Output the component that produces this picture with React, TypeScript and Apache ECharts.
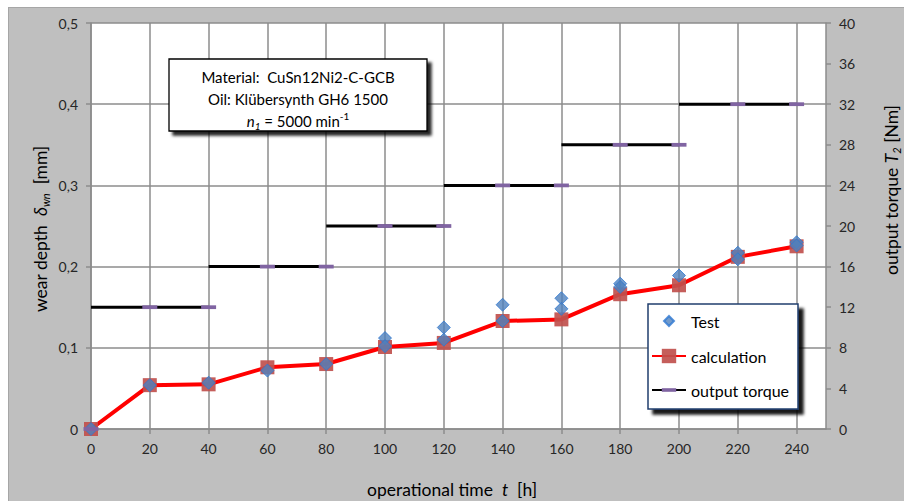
import React, { useEffect, useRef } from "react";
import * as echarts from "echarts";

// ---- data ----
const timeH = [0, 20, 40, 60, 80, 100, 120, 140, 160, 180, 200, 220, 240];
const calcWear = [0, 0.054, 0.055, 0.076, 0.08, 0.101, 0.106, 0.133, 0.135, 0.166, 0.177, 0.212, 0.225];

const testTime = [0, 20, 40, 60, 80, 100, 100, 120, 120, 140, 140, 160, 160, 180, 180, 200, 220, 220, 240, 240];
const testWear = [0, 0.054, 0.057, 0.072, 0.08, 0.112, 0.102, 0.125, 0.11, 0.153, 0.133, 0.161, 0.148, 0.179, 0.175, 0.189, 0.217, 0.209, 0.23, 0.226];

const torqueFrom = [0, 40, 80, 120, 160, 200];
const torqueMarks = [[20, 40], [60, 80], [100, 120], [140, 160], [180, 200], [220, 240]];
const torqueNm = [12, 16, 20, 24, 28, 32];
const torqueStart = [0, 0]; // t = 0 h, T = 0 Nm

const xTickValues = [0, 20, 40, 60, 80, 100, 120, 140, 160, 180, 200, 220, 240];

const FONT = "Lato, 'Open Sans', sans-serif";

// symbol shapes (padded bounding boxes keep the glyph small inside its square)
const DASH = "path://M0 0M0 7.5L20 7.5L20 12.5L0 12.5ZM20 20";
const DIAMOND_ICON = "path://M0 0M9 4L14 9L9 14L4 9ZM18 18";

export default function App() {
  const ref = useRef<HTMLDivElement>(null);

  useEffect(() => {
    if (!ref.current) return;
    const chart = echarts.init(ref.current, undefined, { renderer: "svg" });

    const torqueData: any[] = [{ value: torqueStart }, [torqueStart[0], "-"]];
    torqueFrom.forEach((from, i) => {
      const T = torqueNm[i];
      torqueData.push({ value: [from, T], symbol: "none" });
      torqueMarks[i].forEach((m) => torqueData.push([m, T]));
      torqueData.push([torqueMarks[i][1], "-"]);
    });

    const labelStyle = { color: "#262626", fontSize: 14, fontFamily: FONT };
    const gridLine = { show: true, lineStyle: { color: "#8c8c8c", width: 1.5 } };
    const axisLine = { show: true, lineStyle: { color: "#8c8c8c", width: 1.5 } };
    const axisTick = { show: true, inside: false, length: 5, lineStyle: { color: "#8c8c8c", width: 1.5 } };

    const titleRich = {
      n: { fontSize: 17.5, fontFamily: FONT, color: "#000", lineHeight: 22 },
      i: { fontSize: 17.5, fontFamily: FONT, fontStyle: "italic", color: "#000", lineHeight: 22 },
      sub: { fontSize: 11, fontFamily: FONT, fontStyle: "italic", color: "#000", lineHeight: 11, verticalAlign: "bottom" },
    };

    chart.setOption({
      animation: false,
      backgroundColor: "#bfbfbf",
      grid: { left: 82, top: 15, width: 735, height: 406, show: true, backgroundColor: "#ffffff", borderWidth: 0 },
      xAxis: {
        type: "value",
        min: 0,
        max: 250,
        interval: 20,
        axisLine,
        axisTick: { ...axisTick, customValues: xTickValues },
        axisLabel: { ...labelStyle, margin: 12, customValues: xTickValues },
        splitLine: gridLine,
      },
      yAxis: [
        {
          type: "value",
          min: 0,
          max: 0.5,
          interval: 0.1,
          position: "left",
          axisLine,
          axisTick,
          axisLabel: {
            ...labelStyle,
            margin: 13,
            formatter: (v: number) => (v === 0 ? "0" : v.toFixed(1).replace(".", ",")),
          },
          splitLine: gridLine,
        },
        {
          type: "value",
          min: 0,
          max: 40,
          interval: 4,
          position: "right",
          axisLine,
          axisTick,
          axisLabel: { ...labelStyle, margin: 13 },
          splitLine: { show: false },
        },
      ],
      legend: {
        show: true,
        orient: "vertical",
        left: 642,
        top: 303,
        padding: 0,
        itemWidth: 34,
        itemHeight: 18,
        itemGap: 16,
        selectedMode: false,
        z: 20,
        textStyle: { fontSize: 16, fontFamily: FONT, color: "#000", lineHeight: 18 },
        data: [{ name: "Test", icon: DIAMOND_ICON }, "calculation", "output torque"],
      },
      graphic: [
        {
          type: "rect",
          z: 10,
          shape: { x: 160, y: 51, width: 258, height: 72 },
          style: {
            fill: "#ffffff",
            stroke: "#000000",
            lineWidth: 1.3,
            shadowBlur: 3,
            shadowColor: "rgba(0,0,0,0.85)",
            shadowOffsetX: 4,
            shadowOffsetY: 4,
          },
        },
        {
          type: "text",
          z: 11,
          x: 289,
          y: 69,
          style: { text: "Material:  CuSn12Ni2-C-GCB", fontSize: 15, fontFamily: FONT, fill: "#000", align: "center", verticalAlign: "middle" },
        },
        {
          type: "text",
          z: 11,
          x: 289,
          y: 91,
          style: { text: "Oil: Klübersynth GH6 1500", fontSize: 15, fontFamily: FONT, fill: "#000", align: "center", verticalAlign: "middle" },
        },
        {
          type: "text",
          z: 11,
          x: 289,
          y: 113,
          style: {
            text: "{i|n}{sub|1}{n| = 5000 min}{sup|-1}",
            align: "center",
            verticalAlign: "middle",
            rich: {
              n: { fontSize: 15, fontFamily: FONT, fill: "#000", lineHeight: 20 },
              i: { fontSize: 15, fontFamily: FONT, fontStyle: "italic", fill: "#000", lineHeight: 20 },
              sub: { fontSize: 10, fontFamily: FONT, fontStyle: "italic", fill: "#000", lineHeight: 10, verticalAlign: "bottom" },
              sup: { fontSize: 10, fontFamily: FONT, fill: "#000", lineHeight: 10, verticalAlign: "top" },
            },
          },
        },
        {
          type: "rect",
          z: 10,
          shape: { x: 639, y: 296, width: 150, height: 105 },
          style: {
            fill: "#ffffff",
            stroke: "#1f3f6e",
            lineWidth: 1.5,
            shadowBlur: 3,
            shadowColor: "rgba(0,0,0,0.9)",
            shadowOffsetX: 5,
            shadowOffsetY: 5,
          },
        },
        {
          type: "text",
          z: 11,
          x: 443,
          y: 481,
          style: { text: "{n|operational time  }{i|t}{n|  [h]}", align: "center", verticalAlign: "middle", rich: titleRich },
        },
        {
          type: "text",
          z: 11,
          x: 31,
          y: 221,
          rotation: Math.PI / 2,
          style: { text: "{n|wear depth  }{i|δ}{sub|wn}{n|  [mm]}", align: "center", verticalAlign: "middle", rich: titleRich },
        },
        {
          type: "text",
          z: 11,
          x: 882,
          y: 182,
          rotation: Math.PI / 2,
          style: { text: "{n|output torque }{i|T}{sub|2}{n| [Nm]}", align: "center", verticalAlign: "middle", rich: titleRich },
        },
      ],
      series: [
        {
          name: "calculation",
          type: "line",
          xAxisIndex: 0,
          yAxisIndex: 0,
          data: timeH.map((t, i) => [t, calcWear[i]]),
          symbol: "rect",
          symbolSize: 14,
          showAllSymbol: true,
          lineStyle: { color: "#ff0000", width: 4 },
          itemStyle: { color: "#c0504d", opacity: 0.92 },
          z: 2,
        },
        {
          name: "Test",
          type: "scatter",
          xAxisIndex: 0,
          yAxisIndex: 0,
          data: testTime.map((t, i) => [t, testWear[i]]),
          symbol: "diamond",
          symbolSize: 13,
          itemStyle: { color: "#4f81bd", borderColor: "#2e78d2", borderWidth: 1 },
          z: 3,
        },
        {
          name: "output torque",
          type: "line",
          xAxisIndex: 0,
          yAxisIndex: 1,
          data: torqueData,
          connectNulls: false,
          symbol: DASH,
          symbolSize: 15,
          showAllSymbol: true,
          lineStyle: { color: "#000000", width: 3 },
          itemStyle: { color: "#8064a2" },
          z: 4,
        },
      ],
    });

    return () => chart.dispose();
  }, []);

  return (
    <div
      style={{
        position: "fixed",
        left: 8,
        top: 7,
        right: 0,
        bottom: 0,
        background: "#bfbfbf",
        borderTop: "1px solid #a6a6a6",
        borderLeft: "1px solid #a6a6a6",
      }}
    >
      <div ref={ref} style={{ width: 895, height: 493 }} />
    </div>
  );
}
